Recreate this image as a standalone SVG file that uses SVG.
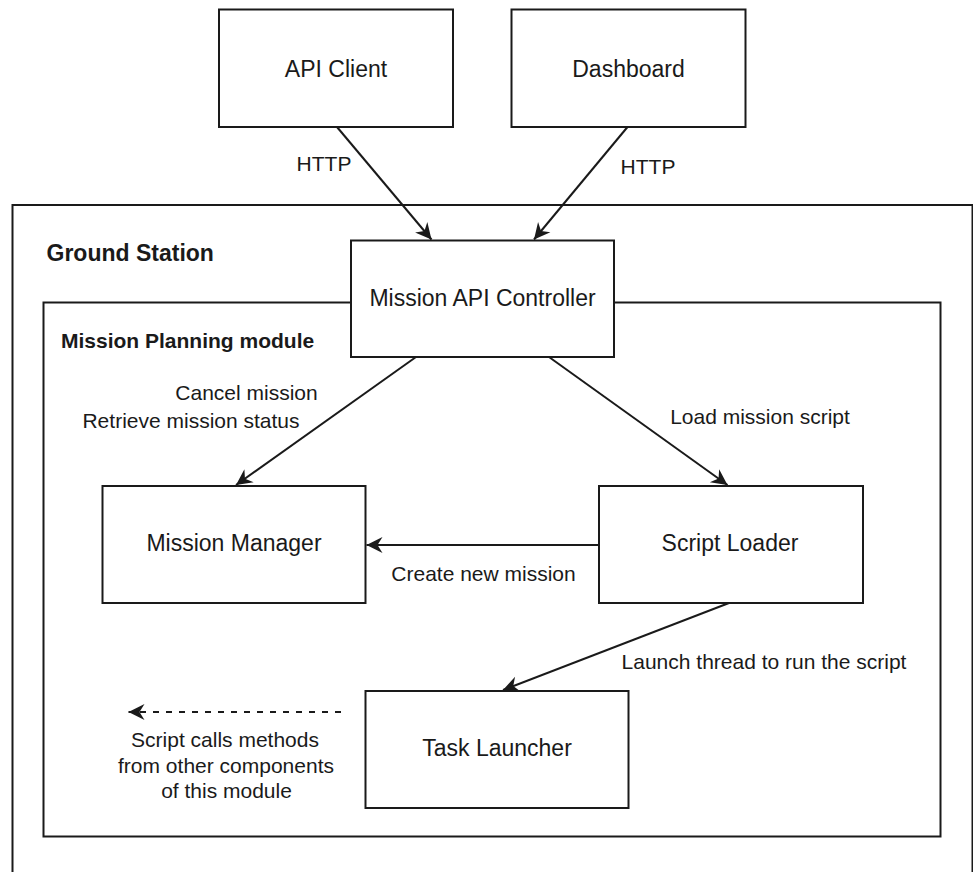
<svg xmlns="http://www.w3.org/2000/svg" width="973" height="872" viewBox="0 0 973 872">
<style>
.box{fill:#fff;stroke:#1a1a1a;stroke-width:2}
.frame{fill:none;stroke:#1a1a1a;stroke-width:2}
.node{font-family:"Liberation Sans",Arial,sans-serif;font-size:23px;fill:#1a1a1a;text-anchor:middle}
.lbl{font-family:"Liberation Sans",Arial,sans-serif;font-size:21px;fill:#1a1a1a;text-anchor:middle}
.title{font-family:"Liberation Sans",Arial,sans-serif;font-weight:bold;fill:#1a1a1a}
.edge{fill:none;stroke:#1a1a1a;stroke-width:2}
.dash{stroke-dasharray:6 7}
</style>
<defs>
<marker id="arr" viewBox="-17 -9 18 18" refX="0" refY="0" markerWidth="18" markerHeight="18" markerUnits="userSpaceOnUse" orient="auto">
<path d="M0,0 L-16,-8 L-11,0 L-16,8 Z" fill="#1a1a1a"/>
</marker>
</defs>
<rect width="973" height="872" fill="#fff"/>
<g id="ground-station">
<rect class="frame" x="12.5" y="205" width="960" height="700"/>
<text class="title" x="46.5" y="261" font-size="23">Ground Station</text>
</g>
<g id="mission-planning-module">
<rect class="frame" x="43.5" y="302.5" width="897" height="534"/>
<text class="title" x="61" y="347.5" font-size="21">Mission Planning module</text>
</g>
<g id="api-client">
<rect class="box" x="219" y="9.5" width="234" height="117.5"/>
<text class="node" x="336" y="76.5">API Client</text>
</g>
<g id="dashboard">
<rect class="box" x="511.5" y="9.5" width="234" height="117.5"/>
<text class="node" x="628.5" y="76.5">Dashboard</text>
</g>
<g id="mission-api-controller">
<rect class="box" x="351" y="240.5" width="263" height="116.5"/>
<text class="node" x="482.5" y="306">Mission API Controller</text>
</g>
<g id="mission-manager">
<rect class="box" x="102.5" y="486" width="263" height="117"/>
<text class="node" x="234" y="551">Mission Manager</text>
</g>
<g id="script-loader">
<rect class="box" x="599" y="486" width="264" height="117"/>
<text class="node" x="730" y="551">Script Loader</text>
</g>
<g id="task-launcher">
<rect class="box" x="365.5" y="691" width="263" height="117"/>
<text class="node" x="497" y="756">Task Launcher</text>
</g>
<g id="connectors">
<line class="edge" x1="337" y1="127" x2="431.5" y2="239.5" marker-end="url(#arr)"/>
<line class="edge" x1="627.5" y1="127" x2="534" y2="239.5" marker-end="url(#arr)"/>
<line class="edge" x1="416" y1="357" x2="236" y2="485" marker-end="url(#arr)"/>
<line class="edge" x1="549" y1="357" x2="727.5" y2="485" marker-end="url(#arr)"/>
<line class="edge" x1="599" y1="545" x2="366.5" y2="545" marker-end="url(#arr)"/>
<line class="edge" x1="729" y1="603" x2="503" y2="690" marker-end="url(#arr)"/>
<line class="edge dash" x1="341" y1="712" x2="128.5" y2="712" marker-end="url(#arr)"/>
<text class="lbl" x="324" y="170.5">HTTP</text>
<text class="lbl" x="648" y="173.5">HTTP</text>
<text class="lbl" x="246.5" y="399.5">Cancel mission</text>
<text class="lbl" x="191" y="427.5">Retrieve mission status</text>
<text class="lbl" x="760" y="423.5">Load mission script</text>
<text class="lbl" x="483.5" y="580.5">Create new mission</text>
<text class="lbl" x="764" y="668.5">Launch thread to run the script</text>
<text class="lbl" x="225" y="746.5">Script calls methods</text>
<text class="lbl" x="226" y="772.5">from other components</text>
<text class="lbl" x="226.5" y="797.5">of this module</text>
</g>
</svg>
